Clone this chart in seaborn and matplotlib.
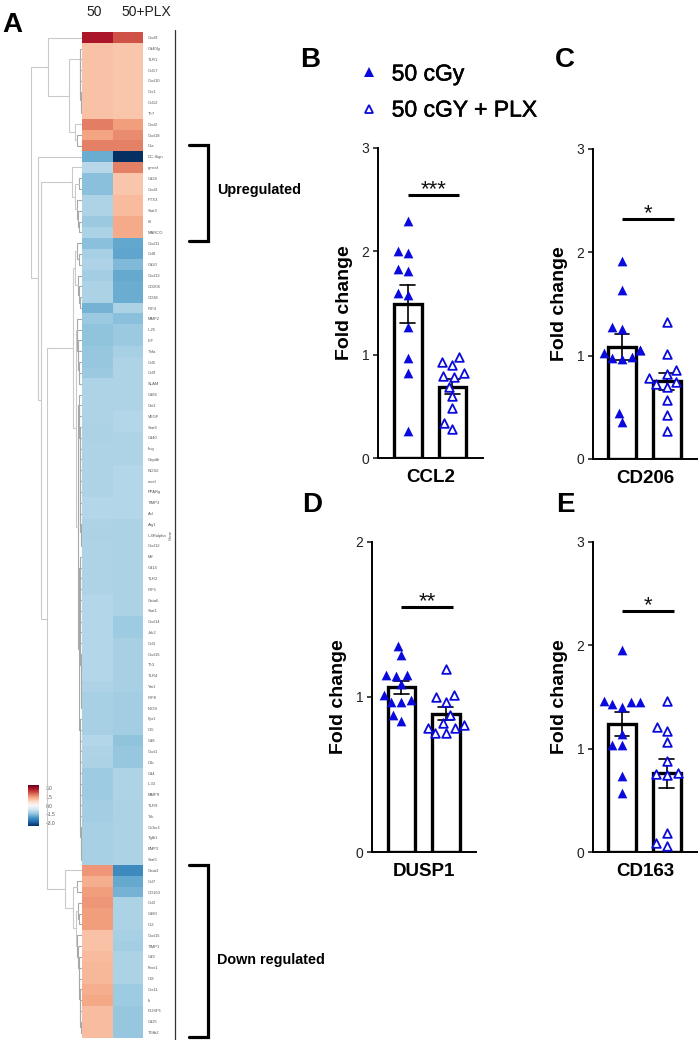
import numpy as np
import pandas as pd
import matplotlib
matplotlib.use('Agg')
import matplotlib.pyplot as plt
import matplotlib.patheffects as pe
from matplotlib.lines import Line2D
import seaborn as sns

gene_labels = ['Cxcl9', 'Cd40lg', 'TLR1', 'Ccl17', 'Cxcl10', 'Ccr1', 'Ccl12', 'Tlr7', 'Cxcl2', 'Cxcl18',
               'Il1a', 'DC-Sign', 'gmcsf', 'Cd24', 'Cxcl3', 'PTX3', 'Stat3', 'Il6', 'MARCO', 'Cxcl11',
               'Ccl8', 'Cd20', 'Cxcl13', 'CD206', 'CD38', 'IRF4', 'MMP2', 'IL25', 'LIF', 'Tnfa',
               'Ccl5', 'Ccl9', 'SLAM', 'Cd86', 'Chi3', 'VEGF', 'Stat6', 'Cd40', 'Ifng', 'Gapdh',
               'NOS2', 'mcsf', 'PPARg', 'TIMP3', 'Axl', 'Arg1', 'IL4Ralpha', 'Cxcl12', 'Mif', 'Cd14',
               'TLR2', 'IRF5', 'Gata6', 'Stat1', 'Cxcl14', 'Jak2', 'Ccl3', 'Cxcl16', 'Tlr3', 'TLR4',
               'Ym1', 'IRF8', 'iNOS', 'Fpr1', 'Il15', 'Cd8', 'Cxcl1', 'Il1b', 'Cd4', 'IL33',
               'MMP9', 'TLR9', 'Tek', 'Cx3cr1', 'Tgfb1', 'BMP2', 'Stat5', 'Gata3', 'Ccl7', 'CD163',
               'Ccl2', 'Cd80', 'Il12', 'Cxcl15', 'TIMP1', 'Cd9', 'Foxr1', 'Il18', 'Ccr11', 'Ifi',
               'DUSP1', 'Cd25', 'TGfb2']

expr_50 = [2.95, 1.05, 1.05, 1.05, 1.05, 1.05, 1.05, 1.05, 1.85, 1.45,
           1.8, -1.8, -1.0, -1.5, -1.5, -1.1, -1.1, -1.35, -1.15, -1.5,
           -1.2, -1.1, -1.25, -1.15, -1.15, -1.7, -1.35, -1.45, -1.45, -1.4,
           -1.4, -1.35, -1.1, -1.1, -1.1, -1.1, -1.15, -1.15, -1.1, -1.1,
           -1.1, -1.1, -1.1, -1.05, -1.05, -1.1, -1.15, -1.1, -1.1, -1.1,
           -1.1, -1.1, -1.05, -1.05, -1.05, -1.05, -1.05, -1.05, -1.05, -1.05,
           -1.1, -1.2, -1.2, -1.2, -1.2, -1.05, -1.1, -1.15, -1.3, -1.3,
           -1.3, -1.25, -1.25, -1.2, -1.2, -1.2, -1.2, 1.6, 1.3, 1.5,
           1.6, 1.5, 1.5, 1.05, 1.05, 1.15, 1.2, 1.2, 1.3, 1.4,
           1.1, 1.1, 1.1]
expr_plx = [2.3, 1.0, 1.0, 1.0, 1.0, 1.0, 1.0, 1.0, 1.5, 1.7,
            1.8, -3.6, 1.8, 1.0, 1.0, 1.15, 1.15, 1.35, 1.35, -1.87,
            -1.9, -1.6, -1.85, -1.8, -1.8, -1.15, -1.5, -1.35, -1.35, -1.2,
            -1.1, -1.1, -1.1, -1.1, -1.1, -1.05, -1.05, -1.1, -1.1, -1.1,
            -1.05, -1.05, -1.05, -1.05, -1.05, -1.15, -1.15, -1.15, -1.15, -1.15,
            -1.15, -1.15, -1.15, -1.15, -1.3, -1.3, -1.2, -1.2, -1.2, -1.2,
            -1.2, -1.25, -1.25, -1.25, -1.25, -1.45, -1.4, -1.4, -1.1, -1.1,
            -1.1, -1.15, -1.15, -1.15, -1.15, -1.15, -1.15, -2.3, -1.85, -1.7,
            -1.15, -1.15, -1.15, -1.2, -1.25, -1.15, -1.15, -1.15, -1.3, -1.3,
            -1.4, -1.4, -1.4]

ccl2_50 = [2.29, 2.0, 1.98, 1.83, 1.81, 1.6, 1.58, 1.27, 0.97, 0.82, 0.26]
ccl2_plx = [0.975, 0.93, 0.895, 0.82, 0.795, 0.78, 0.69, 0.595, 0.48, 0.34, 0.28]
cd206_50 = [1.92, 1.64, 1.28, 1.26, 1.05, 1.05, 1.03, 0.99, 0.98, 0.97, 0.45, 0.36]
cd206_plx = [1.33, 1.02, 0.865, 0.82, 0.78, 0.75, 0.73, 0.70, 0.57, 0.43, 0.27]
dusp1_50 = [1.33, 1.27, 1.14, 1.135, 1.14, 1.08, 1.01, 0.98, 0.97, 0.97, 0.885, 0.845]
dusp1_plx = [1.18, 1.01, 1.0, 0.965, 0.88, 0.83, 0.82, 0.80, 0.80, 0.765, 0.765]
cd163_50 = [1.95, 1.46, 1.45, 1.45, 1.43, 1.40, 1.14, 1.03, 1.03, 0.735, 0.57]
cd163_plx = [1.46, 1.21, 1.17, 1.06, 0.88, 0.76, 0.755, 0.745, 0.18, 0.085, 0.06]

W, H = 700, 1040
BLUE = '#0a0adc'
sns.set_style('white')
plt.rcParams['font.family'] = ['Liberation Sans', 'DejaVu Sans']
plt.rcParams['text.color'] = 'black'
plt.rcParams['axes.labelcolor'] = 'black'


def px_axes(fig, left, right, top, bottom):
    return fig.add_axes([left / W, 1 - bottom / H, (right - left) / W, (bottom - top) / H])


def chain(first, heights):
    node = first + len(heights)
    for i in range(len(heights) - 1, -1, -1):
        node = (heights[i], first + i, node)
    return node


def draw_tree(ax, node):
    if not isinstance(node, tuple):
        return 0, node + 0.5
    h, left, right = node
    h1, y1 = draw_tree(ax, left)
    h2, y2 = draw_tree(ax, right)
    col = '#c9c9c9' if h > 5 else '#a8a8a8'
    ax.plot([h1, h, h, h2], [y1, y1, y2, y2], color=col, lw=0.8, solid_joinstyle='miter')
    return h, (y1 + y2) / 2


top_tree = (33.5, 0, (12.5, chain(1, [2.0, 1.6, 1.4, 1.2, 1.0, 0.8]), (6.5, 8, (4.5, 9, 10))))
up_tree = (9.5, 12, (6.5, (3.0, 13, 14), chain(15, [4.5, 3.5, 2.5])))
mid_top = (7.0, (5.0, 19, (3.0, 20, 21)), chain(22, [3.5, 2.5, 1.5]))
mid_low = (5.5, chain(26, [5.0, 4.5, 4.0, 3.5, 3.0, 2.5]),
           (3.2, chain(33, [2.8, 2.4, 2.2, 2.0, 1.8, 1.7, 1.6, 1.5, 1.4, 1.3, 1.2, 1.1, 1.0, 0.9]),
            (2.4, chain(48, [2.0, 1.9, 1.7, 1.6, 1.5, 1.4, 1.3, 1.2, 1.1, 1.0, 0.9, 0.8, 0.7, 0.6]),
             chain(63, [2.0, 1.9, 1.8, 1.7, 1.6, 1.5, 1.4, 1.3, 1.2, 1.1, 1.0, 0.9, 0.8]))))
down_tree = (16.5, 77, (8.5, (4.5, 78, 79),
                        (5.5, chain(80, [4.0, 3.0]), chain(83, [4.5, 3.8, 3.0, 2.5, 2.2, 2.0, 1.6, 1.3, 1.0]))))
full_tree = (50.5, top_tree, (43.5, 11, (40.5, up_tree, (35.0, (9.0, mid_top, mid_low), down_tree))))

fig = plt.figure(figsize=(W / 100, H / 100), dpi=100)

# heatmap panel
ax_heat = px_axes(fig, 82, 143, 32.3, 1038)
ax_cbar = px_axes(fig, 28, 39, 785, 826)
heat = pd.DataFrame({'50': expr_50, '50+PLX': expr_plx}, index=gene_labels)
sns.heatmap(heat, ax=ax_heat, cbar_ax=ax_cbar, cmap='RdBu_r', vmin=-3.6, vmax=3.6,
            xticklabels=False, yticklabels=True, linewidths=0)
ax_heat.yaxis.tick_right()
ax_heat.yaxis.set_label_position('right')
ax_heat.tick_params(axis='y', length=0, pad=3.5, labelsize=3.0, labelcolor='#555555', labelrotation=0)
ax_heat.set_ylabel('')
ax_cbar.set_yticks([3, 1.5, 0, -1.5, -3])
ax_cbar.set_yticklabels(['3.0', '1.5', '0.0', '\u22121.5', '\u22123.0'])
ax_cbar.tick_params(length=0, pad=5, labelsize=3.5, labelcolor='#555555')
for s in ax_cbar.spines.values():
    s.set_visible(False)
fig.text(170.5 / W, 1 - 535 / H, 'Gene', rotation=90, fontsize=3.0, color='#555555', ha='center', va='center')

ax_tree = px_axes(fig, 31, 81.5, 32.3, 1038)
draw_tree(ax_tree, full_tree)
ax_tree.set_xlim(50.5, 0)
ax_tree.set_ylim(len(gene_labels), 0)
ax_tree.axis('off')

fig.add_artist(Line2D([175 / W, 175 / W], [1 - 30 / H, 0], color='#333333', lw=0.9))
fig.text(94 / W, 1 - 12 / H, '50', fontsize=10, ha='center', va='center', color='#222222')
fig.text(146 / W, 1 - 12 / H, '50+PLX', fontsize=10, ha='center', va='center', color='#222222')

# brackets
for y0, y1 in [(145, 241), (865, 1037)]:
    fig.add_artist(Line2D([189 / W, 208 / W, 208 / W, 189 / W],
                          [1 - y0 / H, 1 - y0 / H, 1 - y1 / H, 1 - y1 / H],
                          color='black', lw=2.3, solid_joinstyle='miter'))
fig.text(217 / W, 1 - 190 / H, 'Upregulated', fontsize=10.4, fontweight='bold', va='center')
fig.text(217 / W, 1 - 960 / H, 'Down regulated', fontsize=10.4, fontweight='bold', va='center')

panels = [
    ('CCL2', ccl2_50, ccl2_plx, 3, '***', (378, 483, 147.7, 458), 2.545, (0.0, 1.15)),
    ('CD206', cd206_50, cd206_plx, 3, '*', (592.7, 697, 149, 459), 2.32, (0.0, 1.16)),
    ('DUSP1', dusp1_50, dusp1_plx, 2, '**', (372, 476, 541.7, 852), 1.58, (0.0, 1.16)),
    ('CD163', cd163_50, cd163_plx, 3, '*', (592.7, 697, 541.7, 852), 2.33, (0.0, 1.16)),
]
groups = ['50 cGy', '50 cGY + PLX']

for name, vals_a, vals_b, ymax, stars, box, sig_y, sig_x in panels:
    ax = px_axes(fig, *box)
    df = pd.DataFrame({'group': [groups[0]] * len(vals_a) + [groups[1]] * len(vals_b),
                       'value': vals_a + vals_b})
    sns.barplot(data=df, x='group', y='value', order=groups, ax=ax, estimator='mean', errorbar='se',
                color='white', saturation=1, width=0.62, edgecolor='black', linewidth=2.4,
                capsize=0.33, err_kws={'color': 'black', 'linewidth': 1.2})
    sns.swarmplot(data=df[df['group'] == groups[0]], x='group', y='value', order=groups, ax=ax,
                  marker='^', size=7, color=BLUE, linewidth=0)
    sns.swarmplot(data=df[df['group'] == groups[1]], x='group', y='value', order=groups, ax=ax,
                  marker='^', size=6.2, color='white', edgecolor=BLUE, linewidth=1.3)
    ax.set_xlim(-0.66, 1.68)
    ax.set_ylim(0, ymax)
    ax.set_yticks(range(ymax + 1))
    ax.tick_params(axis='y', left=True, length=3.6, width=1.2, labelsize=10, pad=2.5, labelcolor='#222222')
    ax.tick_params(axis='x', bottom=False, labelbottom=False)
    sns.despine(ax=ax)
    for s in ['left', 'bottom']:
        ax.spines[s].set_linewidth(1.4)
        ax.spines[s].set_color('black')
    ax.set_xlabel(name, fontsize=13.5, fontweight='bold', labelpad=8)
    ax.set_ylabel('Fold change', fontsize=14, fontweight='bold', labelpad=6)
    ax.plot(sig_x, [sig_y, sig_y], color='black', lw=2.2, solid_capstyle='butt')
    ax.text(sum(sig_x) / 2, sig_y, stars, fontsize=16, ha='center', va='baseline', color='#111111')

for letter, x, y in [('A', 2, 32), ('B', 300, 67), ('C', 555, 67), ('D', 302, 512), ('E', 556, 512)]:
    fig.text(x / W, 1 - y / H, letter, fontsize=20, fontweight='bold', va='baseline')

handles = [Line2D([], [], ls='', marker='^', ms=7, color=BLUE, mew=0),
           Line2D([], [], ls='', marker='^', ms=6.2, mfc='white', mec=BLUE, mew=1.3)]
leg = fig.legend(handles, groups, loc='upper left', bbox_to_anchor=(355 / W, 1 - 62.5 / H), frameon=False,
                 fontsize=16.5, handletextpad=0.4, labelspacing=0.57, handlelength=1.2, borderpad=0, borderaxespad=0)
for t in leg.get_texts():
    t.set_path_effects([pe.withStroke(linewidth=0.4, foreground='black')])

fig.savefig('out.png', dpi=100)
